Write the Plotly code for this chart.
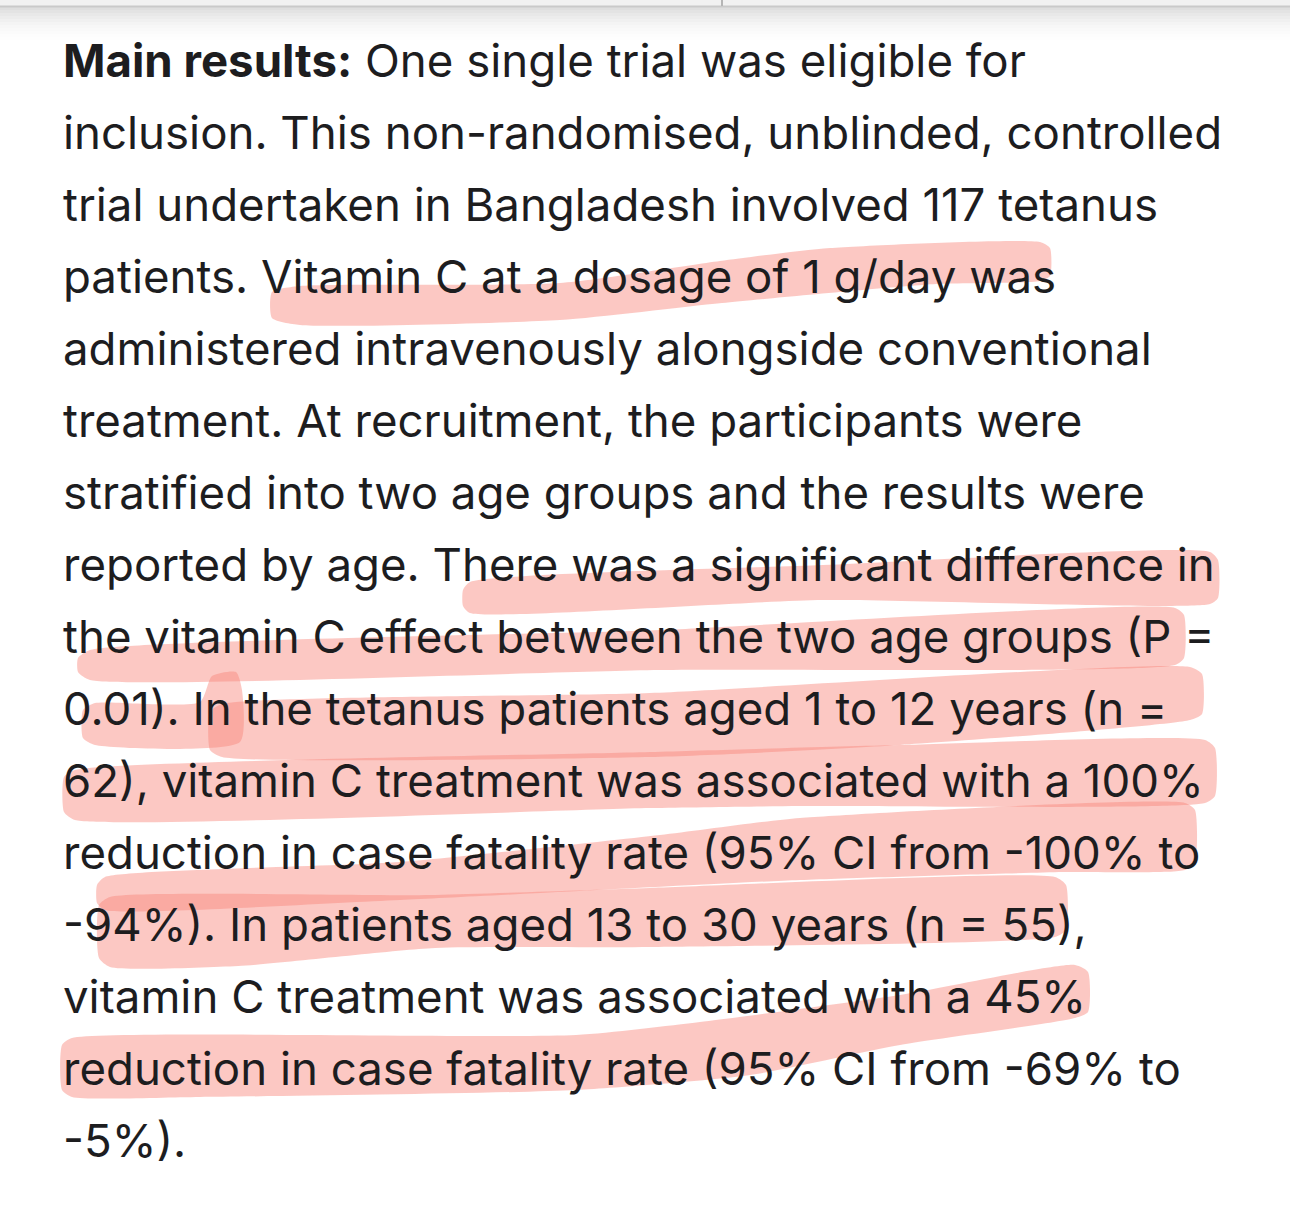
import plotly.graph_objects as go

# ---- text content (one entry per rendered line) ----
text_lines = [
    "<b>Main results:</b> One single trial was eligible for",
    "inclusion. This non-randomised, unblinded, controlled",
    "trial undertaken in Bangladesh involved 117 tetanus",
    "patients. Vitamin C at a dosage of 1 g/day was",
    "administered intravenously alongside conventional",
    "treatment. At recruitment, the participants were",
    "stratified into two age groups and the results were",
    "reported by age. There was a significant difference in",
    "the vitamin C effect between the two age groups (P =",
    "0.01). In the tetanus patients aged 1 to 12 years (n =",
    "62), vitamin C treatment was associated with a 100%",
    "reduction in case fatality rate (95% CI from -100% to",
    "-94%). In patients aged 13 to 30 years (n = 55),",
    "vitamin C treatment was associated with a 45%",
    "reduction in case fatality rate (95% CI from -69% to",
    "-5%).",
]

# ---- highlighter strokes: outline points (x, y) ----
hl_A_x = [272, 300, 560, 720, 830, 1040, 1050, 1050, 1040, 936, 722, 560, 300, 272]
hl_A_y = [292, 286, 283, 261, 248, 242, 248, 276, 281, 284, 303, 320, 325, 318]

hl_B_x = [463, 470, 823, 1210, 1218, 1218, 1210, 823, 470, 463]
hl_B_y = [590, 582, 565, 552, 560, 598, 604, 600, 613, 606]

hl_C_x = [78, 90, 660, 1175, 1184, 1184, 1175, 660, 90, 78]
hl_C_y = [658, 650, 630, 608, 615, 658, 665, 670, 680, 672]

hl_D1_x = [83, 95, 200, 212, 236, 242, 240, 95, 83]
hl_D1_y = [710, 703, 702, 676, 672, 690, 742, 745, 738]

hl_D_x = [210, 222, 650, 1190, 1202, 1202, 1190, 900, 650, 222, 210]
hl_D_y = [712, 704, 693, 667, 674, 714, 720, 745, 757, 757, 750]

hl_E_x = [64, 75, 650, 900, 1205, 1215, 1215, 1205, 800, 650, 75, 64]
hl_E_y = [777, 770, 752, 745, 740, 748, 796, 803, 806, 808, 820, 812]

hl_F_x = [97, 105, 400, 660, 800, 1185, 1195, 1195, 1185, 1063, 800, 400, 105, 97]
hl_F_y = [885, 877, 862, 835, 818, 803, 810, 862, 870, 872, 880, 900, 910, 903]

hl_G_x = [99, 110, 435, 650, 1055, 1066, 1066, 1055, 650, 435, 238, 110, 99]
hl_G_y = [905, 897, 895, 888, 877, 885, 930, 937, 947, 948, 966, 967, 958]

hl_H_x = [62, 72, 576, 700, 900, 1075, 1088, 1088, 1075, 900, 750, 576, 200, 72, 62]
hl_H_y = [1045, 1038, 1035, 1022, 995, 965, 972, 1012, 1018, 1045, 1075, 1090, 1097, 1097, 1090]

strokes = [
    (hl_A_x, hl_A_y), (hl_B_x, hl_B_y), (hl_C_x, hl_C_y), (hl_D1_x, hl_D1_y),
    (hl_D_x, hl_D_y), (hl_E_x, hl_E_y), (hl_F_x, hl_F_y), (hl_G_x, hl_G_y),
    (hl_H_x, hl_H_y),
]

W, H = 1290, 1205
LEFT = 62
FIRST_BASELINE = 77
PITCH = 72
FONT_SIZE = 45.6

fig = go.Figure()

for xs, ys in strokes:
    fig.add_trace(go.Scatter(
        x=xs + [xs[0]], y=ys + [ys[0]], mode="none", fill="toself",
        fillcolor="rgba(248,133,122,0.45)",
        line=dict(shape="spline", smoothing=0.6),
        hoverinfo="skip", showlegend=False,
    ))

for i, t in enumerate(text_lines):
    baseline = FIRST_BASELINE + i * PITCH
    fig.add_annotation(
        x=LEFT, y=baseline - 0.36 * FONT_SIZE, xref="x", yref="y",
        text=t, showarrow=False, xanchor="left", yanchor="middle",
        font=dict(family="Inter", size=FONT_SIZE, color="#1d1d1f"),
        borderpad=0,
    )

# window chrome at the top: light bar, divider line, shadow
shapes = [
    dict(type="rect", xref="paper", yref="y", x0=0, x1=1, y0=0, y1=6,
         fillcolor="#f1f1f1", line_width=0, layer="below"),
]
for k in range(12):
    shapes.append(dict(type="rect", xref="paper", yref="y", x0=0, x1=1,
                       y0=7 + k * 3, y1=10 + k * 3,
                       fillcolor="rgba(0,0,0,%.3f)" % (0.13 * (1 - k / 12) ** 2),
                       line_width=0, layer="below"))
shapes.append(dict(type="line", xref="paper", yref="y", x0=0, x1=1, y0=6.5, y1=6.5,
                   line=dict(color="#c9c9c9", width=2)))
shapes.append(dict(type="line", xref="x", yref="y", x0=722, x1=722, y0=0, y1=6,
                   line=dict(color="#b5b5b5", width=2)))

fig.update_layout(
    width=W, height=H, margin=dict(l=0, r=0, t=0, b=0),
    paper_bgcolor="white", plot_bgcolor="white",
    xaxis=dict(range=[0, W], visible=False, fixedrange=True),
    yaxis=dict(range=[H, 0], visible=False, fixedrange=True),
    shapes=shapes, showlegend=False,
)

fig.write_html(
    "out.html", config={"displayModeBar": False},
    post_script="document.body.style.margin='0';document.body.style.overflow='hidden';",
)
